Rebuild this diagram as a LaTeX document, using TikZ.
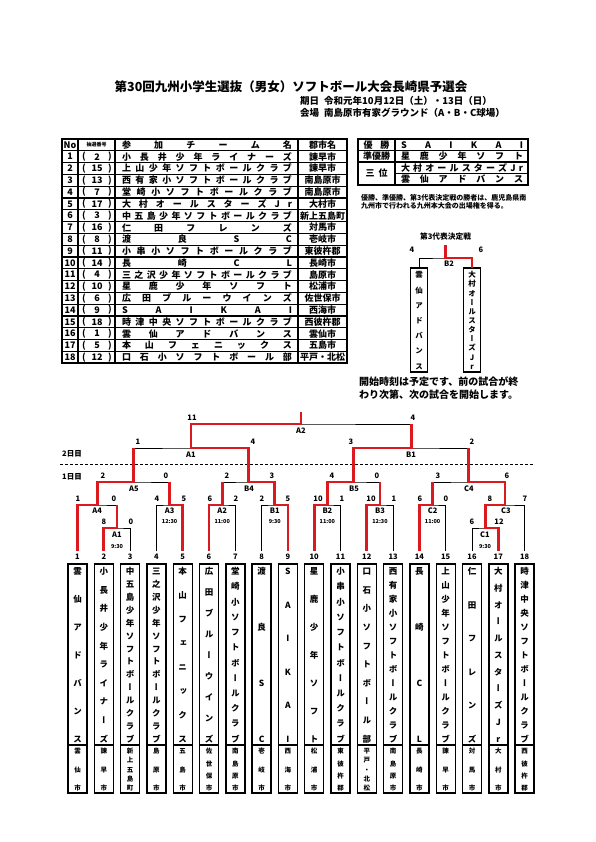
\documentclass[tikz,border=0pt]{standalone}
\usepackage{fontspec}
\setmainfont{Noto Sans CJK JP}
\newfontfamily\jpv{Noto Sans CJK JP}[RawFeature=+vert]
\usetikzlibrary{calc}
\definecolor{rd}{RGB}{220,25,30}
\makeatletter
\def\sp@end{SPEND}
\def\hsp#1{\hsp@a#1\sp@end}
\def\hsp@a#1{#1\hsp@b}
\def\hsp@b#1{\ifx#1\sp@end\else\hfill#1\expandafter\hsp@b\fi}
\def\cstrut{\rule[-.12em]{0pt}{1em}}
\def\vsp#1{\vsp@a#1\sp@end}
\def\vsp@a#1{\hbox to\hsize{\hss\cstrut#1\hss}\vsp@b}
\def\vsp@b#1{\ifx#1\sp@end\else\vfill\hbox to\hsize{\hss\cstrut#1\hss}\expandafter\vsp@b\fi}
\makeatother
\newcommand\vstack[3]{\parbox[t][#2][s]{#1}{\offinterlineskip #3}}
\tikzset{
 bk/.style={line width=0.9pt, black},
 rdl/.style={line width=2.8pt, rd},
 tbox/.style={draw, line width=1.4pt, minimum width=19pt, minimum height=229pt, inner sep=0pt, outer sep=0pt},
 qbox/.style={draw, line width=1.4pt, minimum width=17pt, minimum height=104pt, inner sep=0pt, outer sep=0pt},
 num/.style={font=\bfseries\fontsize{7.5}{8}\selectfont, inner sep=0pt},
 sc/.style={font=\bfseries\fontsize{7.5}{8}\selectfont, inner sep=0pt},
 ml/.style={font=\bfseries\fontsize{7.5}{8}\selectfont, inner sep=0pt},
 tm/.style={font=\bfseries\fontsize{5.5}{6}\selectfont, inner sep=0pt},
 tt/.style={font=\bfseries\fontsize{9}{9}\selectfont, inner sep=0pt},
 hd/.style={anchor=west,font=\bfseries\fontsize{9.5}{10}\selectfont,inner sep=0pt},
 grid/.style={line width=1.2pt},
}
\newcommand\team[4]{%
  \node[tbox] (b#1) at (#2,678.5) {};
  \coordinate (p#1) at (#2,551);
  \draw[line width=1.4pt] (b#1.west |- 0,745) -- (b#1.east |- 0,745);
  \node[anchor=north,inner sep=0pt] (n#1) at (#2,567) {\vstack{18pt}{175pt}{\jpv\bfseries\fontsize{8.5}{8.5}\selectfont\vsp{#3}}};
  \node[anchor=north,inner sep=0pt] (c#1) at (#2,748) {\vstack{18pt}{42pt}{\jpv\bfseries\fontsize{6.5}{6.5}\selectfont\vsp{#4}}};
  \node[num] (k#1) at (#2,557) {#1};
}
\newcommand\trow[5]{%
  \node[tt] (no#1) at (70,{139+11.8*#1+5.9}) {#2};
  \node[tt] (lp#1) at (84,{139+11.8*#1+5.9}) {(};
  \node[tt] (lot#1) at (97,{139+11.8*#1+5.9}) {#3};
  \node[tt] (rp#1) at (110,{139+11.8*#1+5.9}) {)};
  \node[tt] (tn#1) at (207,{139+11.8*#1+5.9}) {\makebox[170pt]{\hsp{#4}}};
  \node[tt] (ct#1) at (322.5,{139+11.8*#1+5.9}) {#5};
}
\begin{document}
\begin{tikzpicture}[x=1pt,y=-1pt]
\fill[white] (0,0) rectangle (595,842);
\path[use as bounding box] (0,0) rectangle (595,842);

% ---------- title ----------
\node[font=\bfseries\fontsize{12.5}{13}\selectfont] (title) at (291,87) {第30回九州小学生選抜（男女）ソフトボール大会長崎県予選会};
\node[hd] (kd) at (300,101) {期日};
\node[hd] (kdv) at (324,101) {令和元年10月12日（土）・13日（日）};
\node[hd] (kj) at (300,113) {会場};
\node[hd] (kjv) at (324,113) {南島原市有家グラウンド（A・B・C球場）};

% ---------- participants table ----------
\foreach \k in {1,...,18} \draw[grid] (62,{139+11.8*\k}) -- (347,{139+11.8*\k});
\draw[grid] (78,139) -- (78,362.8);
\draw[grid] (115,139) -- (115,362.8);
\draw[grid] (298,139) -- (298,362.8);
\draw[line width=2pt] (62,139) rectangle (347,362.8);
\node[tt] (hno) at (70,144.9) {No};
\node[font=\bfseries\fontsize{5}{5}\selectfont,inner sep=0pt] (hlot) at (96.5,144.9) {抽選番号};
\node[tt] (hname) at (207,144.9) {\makebox[170pt]{\hsp{参加チーム名}}};
\node[tt] (hcity) at (322.5,144.9) {郡市名};
\trow{1}{1}{2}{小長井少年ライナーズ}{諫早市}
\trow{2}{2}{15}{上山少年ソフトボールクラブ}{諫早市}
\trow{3}{3}{13}{西有家小ソフトボールクラブ}{南島原市}
\trow{4}{4}{7}{堂崎小ソフトボールクラブ}{南島原市}
\trow{5}{5}{17}{大村オールスターズJr}{大村市}
\trow{6}{6}{3}{中五島少年ソフトボールクラブ}{新上五島町}
\trow{7}{7}{16}{仁田フレンズ}{対馬市}
\trow{8}{8}{8}{渡良SC}{壱岐市}
\trow{9}{9}{11}{小串小ソフトボールクラブ}{東彼杵郡}
\trow{10}{10}{14}{長崎CL}{長崎市}
\trow{11}{11}{4}{三之沢少年ソフトボールクラブ}{島原市}
\trow{12}{12}{10}{星鹿少年ソフト}{松浦市}
\trow{13}{13}{6}{広田ブルーウインズ}{佐世保市}
\trow{14}{14}{9}{SAIKAI}{西海市}
\trow{15}{15}{18}{時津中央ソフトボールクラブ}{西彼杵郡}
\trow{16}{16}{1}{雲仙アドバンス}{雲仙市}
\trow{17}{17}{5}{本山フェニックス}{五島市}
\trow{18}{18}{12}{口石小ソフトボール部}{平戸・北松}

% ---------- results table ----------
\draw[grid] (358,150.5) -- (528,150.5);
\draw[grid] (358,162) -- (528,162);
\draw[grid] (395,173.5) -- (528,173.5);
\draw[grid] (395,139) -- (395,185);
\draw[line width=2pt] (358,139) rectangle (528,185);
\node[tt] (r1l) at (376.5,144.75) {\makebox[26pt]{\hsp{優勝}}};
\node[tt] (r2l) at (376.5,156.25) {準優勝};
\node[tt] (r3l) at (376.5,173.5) {\makebox[22pt]{\hsp{三位}}};
\node[tt] (r1v) at (462,144.75) {\makebox[122pt]{\hsp{SAIKAI}}};
\node[tt] (r2v) at (462,156.25) {\makebox[122pt]{\hsp{星鹿少年ソフト}}};
\node[tt] (r3v) at (462,167.75) {\makebox[122pt]{\hsp{大村オールスターズJr}}};
\node[tt] (r4v) at (462,179.25) {\makebox[122pt]{\hsp{雲仙アドバンス}}};
\node[anchor=north west,align=left,font=\bfseries\fontsize{7}{8.5}\selectfont,inner sep=0pt] (note1) at (361,194) {優勝、準優勝、第3代表決定戦の勝者は、鹿児島県南\\九州市で行われる九州本大会の出場権を得る。};

% ---------- third place ----------
\node[font=\bfseries\fontsize{7.7}{8}\selectfont,inner sep=0pt] (q3t) at (445.5,237) {第3代表決定戦};
\node[qbox] (q1) at (419,320) {};
\node[qbox] (q2) at (472,320) {};
\node[anchor=north,inner sep=0pt] (qn1) at (419,271) {\vstack{16pt}{98pt}{\jpv\bfseries\fontsize{7.5}{7.5}\selectfont\vsp{雲仙アドバンス}}};
\node[anchor=north,inner sep=0pt] (qn2) at (472,271) {\vstack{16pt}{98pt}{\jpv\bfseries\fontsize{7.5}{7.5}\selectfont\vsp{大村オールスターズJr}}};
\coordinate (mQ) at (445.5,258);
\coordinate (mQt) at (445.5,245);
\draw[bk] (q1.north) |- (mQ) -| (q2.north);
\draw[rdl] (q2.north) |- (mQ) -- (mQt);
\node[sc] (qs1) at (412,250) {4};
\node[sc] (qs2) at (481,250) {6};
\node[ml] (qlab) at (449,264) {B2};
\node[anchor=north west,align=left,font=\bfseries\fontsize{10}{13}\selectfont,inner sep=0pt] (note2) at (359,377) {開始時刻は予定です、前の試合が終\\わり次第、次の試合を開始します。};

% ---------- teams ----------
\team{1}{77.5}{雲仙アドバンス}{雲仙市}
\team{2}{103.8}{小長井少年ライナーズ}{諫早市}
\team{3}{130.1}{中五島少年ソフトボールクラブ}{新上五島町}
\team{4}{156.4}{三之沢少年ソフトボールクラブ}{島原市}
\team{5}{182.7}{本山フェニックス}{五島市}
\team{6}{209.0}{広田ブルーウインズ}{佐世保市}
\team{7}{235.3}{堂崎小ソフトボールクラブ}{南島原市}
\team{8}{261.6}{渡良SC}{壱岐市}
\team{9}{287.9}{SAIKAI}{西海市}
\team{10}{314.2}{星鹿少年ソフト}{松浦市}
\team{11}{340.5}{小串小ソフトボールクラブ}{東彼杵郡}
\team{12}{366.8}{口石小ソフトボール部}{平戸・北松}
\team{13}{393.1}{西有家小ソフトボールクラブ}{南島原市}
\team{14}{419.4}{長崎CL}{長崎市}
\team{15}{445.7}{上山少年ソフトボールクラブ}{諫早市}
\team{16}{472.0}{仁田フレンズ}{対馬市}
\team{17}{498.3}{大村オールスターズJr}{大村市}
\team{18}{524.6}{時津中央ソフトボールクラブ}{西彼杵郡}

% ---------- bracket coordinates ----------
\coordinate (mA1) at (116.95,528);
\coordinate (mC1) at (485.15,528);
\coordinate (mA4) at (97.2,505);
\coordinate (mA3) at (169.55,505);
\coordinate (mA2) at (222.15,505);
\coordinate (mB1) at (274.75,505);
\coordinate (mB2) at (327.35,505);
\coordinate (mB3) at (379.95,505);
\coordinate (mC2) at (432.55,505);
\coordinate (mC3) at (504.9,505);
\coordinate (mA5) at (133.4,482);
\coordinate (mB4) at (248.45,482);
\coordinate (mB5) at (353.65,482);
\coordinate (mC4) at (468.7,482);
\coordinate (mD1) at (190.9,448);
\coordinate (mD2) at (411.2,448);
\coordinate (mF) at (301.05,424);
\coordinate (mtop) at (301.05,412);

% day separator
\draw[line width=0.9pt,dash pattern=on 3pt off 2pt] (60,464) -- (534,464);
\node[anchor=west,font=\bfseries\fontsize{7.5}{8}\selectfont,inner sep=0pt] (day2) at (62,454) {2日目};
\node[anchor=west,font=\bfseries\fontsize{7.5}{8}\selectfont,inner sep=0pt] (day1) at (62,477) {1日目};

% black bracket
\draw[bk] (p2) |- (mA1) -| (p3);
\draw[bk] (p16) |- (mC1) -| (p17);
\draw[bk] (p1) |- (mA4) -| (mA1);
\draw[bk] (p4) |- (mA3) -| (p5);
\draw[bk] (p6) |- (mA2) -| (p7);
\draw[bk] (p8) |- (mB1) -| (p9);
\draw[bk] (p10) |- (mB2) -| (p11);
\draw[bk] (p12) |- (mB3) -| (p13);
\draw[bk] (p14) |- (mC2) -| (p15);
\draw[bk] (mC1) |- (mC3) -| (p18);
\draw[bk] (mA4) |- (mA5) -| (mA3);
\draw[bk] (mA2) |- (mB4) -| (mB1);
\draw[bk] (mB2) |- (mB5) -| (mB3);
\draw[bk] (mC2) |- (mC4) -| (mC3);
\draw[bk] (mA5) |- (mD1) -| (mB4);
\draw[bk] (mB5) |- (mD2) -| (mC4);
\draw[bk] (mD1) |- (mF) -| (mD2);

% red winner paths
\draw[rdl] (p2) |- (mA1) -- (mA1 |- mA4);
\draw[rdl] (p17) |- (mC1) -- (mC1 |- mC3);
\draw[rdl] (p1) |- (mA4) -- (mA4 |- mA5);
\draw[rdl] (p5) |- (mA3) -- (mA3 |- mA5);
\draw[rdl] (p6) |- (mA2) -- (mA2 |- mB4);
\draw[rdl] (p9) |- (mB1) -- (mB1 |- mB4);
\draw[rdl] (p10) |- (mB2) -- (mB2 |- mB5);
\draw[rdl] (p12) |- (mB3) -- (mB3 |- mB5);
\draw[rdl] (p14) |- (mC2) -- (mC2 |- mC4);
\draw[rdl] (mC1) |- (mC3) -- (mC3 |- mC4);
\draw[rdl] (mA4) |- (mA5) -- (mA5 |- mD1);
\draw[rdl] (mB1) |- (mB4) -- (mB4 |- mD1);
\draw[rdl] (mB2) |- (mB5) -- (mB5 |- mD2);
\draw[rdl] (mC3) |- (mC4) -- (mC4 |- mD2);
\draw[rdl] (mB4) |- (mD1) -- (mD1 |- mF);
\draw[rdl] (mB5) |- (mD2) -- (mD2 |- mF);
\draw[rdl] (mD1) |- (mF) -- (mtop);

% match labels
\node[ml] (lF) at (301,431) {A2};
\node[ml] (lD1) at (191,455) {A1};
\node[ml] (lD2) at (411,455) {B1};
\node[ml] (lA5) at (134,489) {A5};
\node[ml] (lB4) at (249,489) {B4};
\node[ml] (lB5) at (354,489) {B5};
\node[ml] (lC4) at (469,489) {C4};
\node[ml] (lA4) at (97.2,511) {A4};
\node[ml] (lA3) at (169.6,511) {A3};
\node[ml] (lA2) at (222.2,511) {A2};
\node[ml] (lB1) at (274.8,511) {B1};
\node[ml] (lB2) at (327.4,511) {B2};
\node[ml] (lB3) at (380,511) {B3};
\node[ml] (lC2) at (432.6,511) {C2};
\node[ml] (lC3) at (506,511) {C3};
\node[tm] (tA3) at (169.6,521) {12:30};
\node[tm] (tA2) at (222.2,521) {11:00};
\node[tm] (tB1) at (274.8,521) {9:30};
\node[tm] (tB2) at (327.4,521) {11:00};
\node[tm] (tB3) at (380,521) {12:30};
\node[tm] (tC2) at (432.6,521) {11:00};
\node[ml] (lA1) at (117,535) {A1};
\node[tm] (tA1) at (117,546) {9:30};
\node[ml] (lC1) at (485,535) {C1};
\node[tm] (tC1) at (485,546) {9:30};

% scores
\node[sc] (s01) at (192,418) {11};
\node[sc] (s02) at (413,418) {4};
\node[sc] (s03) at (138,442) {1};
\node[sc] (s04) at (253,442) {4};
\node[sc] (s05) at (351,442) {3};
\node[sc] (s06) at (472,442) {2};
\node[sc] (s07) at (103,476) {2};
\node[sc] (s08) at (166,476) {0};
\node[sc] (s09) at (227,476) {2};
\node[sc] (s10) at (272,476) {3};
\node[sc] (s11) at (332,476) {4};
\node[sc] (s12) at (377,476) {0};
\node[sc] (s13) at (438,476) {3};
\node[sc] (s14) at (507,476) {6};
\node[sc] (s15) at (78,499) {1};
\node[sc] (s16) at (114,499) {0};
\node[sc] (s17) at (157,499) {4};
\node[sc] (s18) at (184,499) {5};
\node[sc] (s19) at (210,499) {6};
\node[sc] (s20) at (236,499) {2};
\node[sc] (s21) at (262,499) {2};
\node[sc] (s22) at (288,499) {5};
\node[sc] (s23) at (318,499) {10};
\node[sc] (s24) at (342,499) {1};
\node[sc] (s25) at (371,499) {10};
\node[sc] (s26) at (394,499) {1};
\node[sc] (s27) at (420,499) {6};
\node[sc] (s28) at (446,499) {0};
\node[sc] (s29) at (490,499) {8};
\node[sc] (s30) at (525,499) {7};
\node[sc] (s31) at (104,522) {8};
\node[sc] (s32) at (131,522) {0};
\node[sc] (s33) at (472,522) {6};
\node[sc] (s34) at (499,522) {12};
\end{tikzpicture}
\end{document}
